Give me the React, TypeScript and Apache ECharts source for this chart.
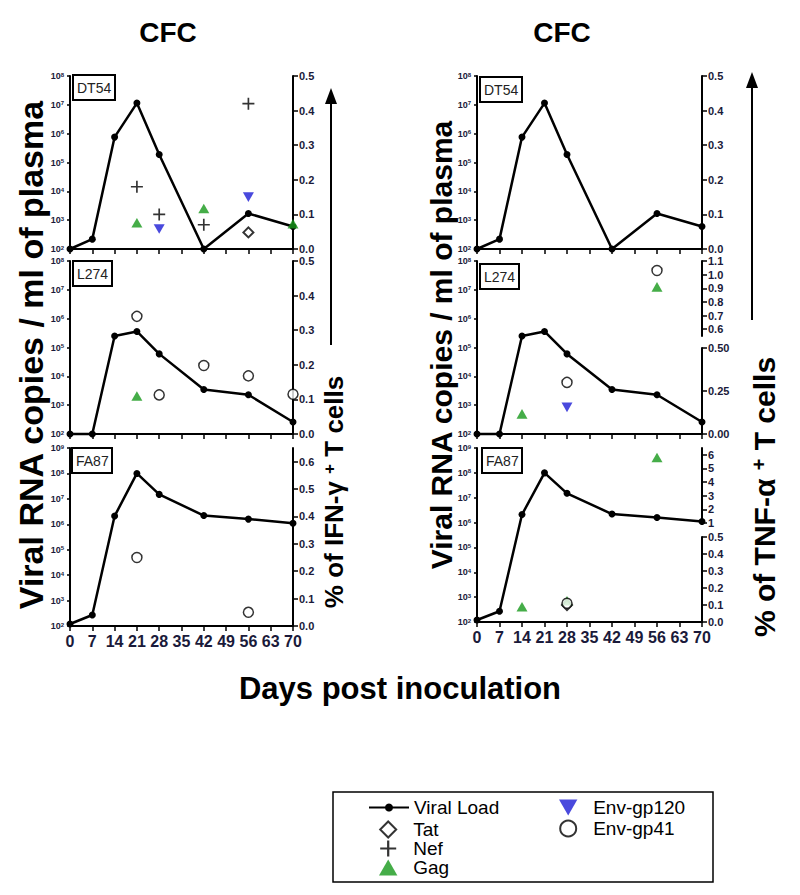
import { useEffect, useRef } from 'react';
import * as echarts from 'echarts';

const FONT = '"Liberation Sans", Arial, Helvetica, sans-serif';
const INK = '#000';
const TICK_INK = '#1a1a3a';

// ---------------- data ----------------
const DAYS = [0, 7, 14, 21, 28, 42, 56, 70];
const DAY_MAX = 70;
const DAY_STEP = 7;

// viral load (copies / ml of plasma)
const vlDT54 = [100, 220, 7.6e5, 1.15e7, 1.9e5, 100, 1.7e3, 600];
const vlL274 = [100, 100, 2.5e5, 3.6e5, 6.0e4, 3.5e3, 2.3e3, 260];
const vlFA87 = [120, 270, 2.1e6, 1.0e8, 1.5e7, 2.2e6, 1.6e6, 1.1e6];

// % of IFN-gamma+ T cells, [day, %]
const ifnDT54Tat = [[56, 0.048]];
const ifnDT54Nef = [[21, 0.18], [28, 0.1], [42, 0.07], [56, 0.42]];
const ifnDT54Gag = [[21, 0.076], [42, 0.117], [70, 0.073]];
const ifnDT54Gp120 = [[28, 0.058], [56, 0.15]];
const ifnL274Gag = [[21, 0.11]];
const ifnL274Gp41 = [[21, 0.34], [28, 0.113], [42, 0.198], [56, 0.168], [70, 0.115]];
const ifnFA87Gp41 = [[21, 0.25], [56, 0.05]];

// % of TNF-alpha+ T cells, [day, %]
const tnfL274Gag = [[14, 0.117], [56, 0.91]];
const tnfL274Gp120 = [[28, 0.155]];
const tnfL274Gp41 = [[28, 0.3], [56, 1.03]];
const tnfFA87Tat = [[28, 0.1]];
const tnfFA87Gag = [[14, 0.09], [28, 0.125], [56, 5.8]];
const tnfFA87Gp41 = [[28, 0.11]];

// right-axis tick labels
const TICKS_05 = [0, 0.1, 0.2, 0.3, 0.4, 0.5];
const TICKS_06 = [0, 0.1, 0.2, 0.3, 0.4, 0.5, 0.6];
const TICKS_L274_LOW = [0, 0.25, 0.5];
const TICKS_L274_HIGH = [0.6, 0.7, 0.8, 0.9, 1.0, 1.1];
const TICKS_FA87_LOW = [0, 0.1, 0.2, 0.3, 0.4, 0.5];
const TICKS_FA87_HIGH = [1, 2, 3, 4, 5, 6];

// ---------------- layout ----------------
const COLS = [
  { left: 70, right: 293 },
  { left: 477, right: 702 },
];

type Seg = { min: number; max: number; top: number; bottom: number; ticks: number[]; digits: number };
type Panel = {
  col: number; top: number; bottom: number; logMax: number; name: string; box: [number, number];
  vl: number[]; showX: boolean; resp: Record<string, number[][]>; segs: Seg[];
};

const panels: Panel[] = [
  {
    col: 0, top: 76, bottom: 249, logMax: 1e8, name: 'DT54', box: [73, 75], vl: vlDT54, showX: false,
    resp: { Tat: ifnDT54Tat, Nef: ifnDT54Nef, Gag: ifnDT54Gag, 'Env-gp120': ifnDT54Gp120 },
    segs: [{ min: 0, max: 0.5, top: 76, bottom: 249, ticks: TICKS_05, digits: 1 }],
  },
  {
    col: 0, top: 261, bottom: 434, logMax: 1e8, name: 'L274', box: [73, 261], vl: vlL274, showX: false,
    resp: { Gag: ifnL274Gag, 'Env-gp41': ifnL274Gp41 },
    segs: [{ min: 0, max: 0.5, top: 261, bottom: 434, ticks: TICKS_05, digits: 1 }],
  },
  {
    col: 0, top: 448, bottom: 626, logMax: 1e9, name: 'FA87', box: [72, 448], vl: vlFA87, showX: true,
    resp: { 'Env-gp41': ifnFA87Gp41 },
    segs: [{ min: 0, max: 0.65, top: 448, bottom: 626, ticks: TICKS_06, digits: 1 }],
  },
  {
    col: 1, top: 76, bottom: 249, logMax: 1e8, name: 'DT54', box: [480, 77], vl: vlDT54, showX: false,
    resp: {},
    segs: [{ min: 0, max: 0.5, top: 76, bottom: 249, ticks: TICKS_05, digits: 1 }],
  },
  {
    col: 1, top: 261, bottom: 434, logMax: 1e8, name: 'L274', box: [480, 264], vl: vlL274, showX: false,
    resp: { Gag: tnfL274Gag, 'Env-gp120': tnfL274Gp120, 'Env-gp41': tnfL274Gp41 },
    segs: [
      { min: 0, max: 0.5, top: 348, bottom: 434, ticks: TICKS_L274_LOW, digits: 2 },
      { min: 0.55, max: 1.1, top: 261, bottom: 336, ticks: TICKS_L274_HIGH, digits: 1 },
    ],
  },
  {
    col: 1, top: 448, bottom: 622, logMax: 1e9, name: 'FA87', box: [482, 448], vl: vlFA87, showX: true,
    resp: { Tat: tnfFA87Tat, Gag: tnfFA87Gag, 'Env-gp41': tnfFA87Gp41 },
    segs: [
      { min: 0, max: 0.5, top: 537, bottom: 622, ticks: TICKS_FA87_LOW, digits: 1 },
      { min: 1, max: 6.5, top: 448, bottom: 523, ticks: TICKS_FA87_HIGH, digits: 0 },
    ],
  },
];

const PLUS = 'path://M4.3,0H5.7V4.3H10V5.7H5.7V10H4.3V5.7H0V4.3H4.3Z';
const DOWN_TRI = 'path://M0,0L10,0L5,8.7Z';
const UP_TRI = 'path://M5,0L10,8.7L0,8.7Z';
const DIAMOND = 'path://M5,0L10,5L5,10L0,5Z';

const RESP_STYLE: Record<string, any> = {
  Tat: { symbol: DIAMOND, symbolSize: 10, itemStyle: { color: '#fff', borderColor: '#000', borderWidth: 2 } },
  Nef: { symbol: PLUS, symbolSize: 12, itemStyle: { color: '#000' } },
  Gag: { symbol: UP_TRI, symbolSize: 11, itemStyle: { color: '#17991a' } },
  'Env-gp120': { symbol: DOWN_TRI, symbolSize: 11, itemStyle: { color: '#1c1cd4' } },
  'Env-gp41': { symbol: 'circle', symbolSize: 10, itemStyle: { color: '#fff', borderColor: '#000', borderWidth: 1.5 } },
};
const RESP_ORDER = ['Tat', 'Nef', 'Gag', 'Env-gp120', 'Env-gp41'];

const axisLineStyle = { color: INK, width: 2 };

function logLabel(v: number) {
  const e = Math.round(Math.log10(v));
  return `{b|10}{s|${e}}`;
}

function buildOption() {
  const grid: any[] = [];
  const xAxis: any[] = [];
  const yAxis: any[] = [];
  const series: any[] = [];
  const title: any[] = [];

  panels.forEach((p) => {
    const c = COLS[p.col];
    const gi = grid.length;
    grid.push({ left: c.left, top: p.top, width: c.right - c.left, height: p.bottom - p.top, outerBoundsMode: 'none' });
    xAxis.push({
      type: 'value', gridIndex: gi, min: 0, max: DAY_MAX, interval: DAY_STEP,
      axisLine: { show: true, onZero: false, lineStyle: axisLineStyle },
      axisTick: { show: true, length: 5, lineStyle: { color: INK, width: 1.5 } },
      axisLabel: { show: p.showX, fontSize: 16, fontWeight: 'bold', color: TICK_INK, margin: 7, fontFamily: FONT },
      splitLine: { show: false },
    });
    const xi = xAxis.length - 1;
    yAxis.push({
      type: 'log', gridIndex: gi, min: 100, max: p.logMax, logBase: 10, position: 'left',
      axisLine: { show: true, onZero: false, lineStyle: axisLineStyle },
      axisTick: { show: true, length: 3, lineStyle: { color: INK, width: 1.5 } },
      minorTick: { show: false },
      splitLine: { show: false },
      axisLabel: {
        formatter: logLabel, margin: 6,
        rich: {
          b: { fontSize: 9, fontWeight: 'bold', color: TICK_INK, fontFamily: FONT },
          s: { fontSize: 6, fontWeight: 'bold', color: TICK_INK, fontFamily: FONT, verticalAlign: 'top' },
        },
      },
    });
    const yi = yAxis.length - 1;
    series.push({
      type: 'line', name: 'Viral Load', xAxisIndex: xi, yAxisIndex: yi,
      data: DAYS.map((d, i) => [d, p.vl[i]]),
      symbol: 'circle', symbolSize: 7, clip: false, z: 3,
      itemStyle: { color: INK },
      lineStyle: { color: INK, width: 2.5 },
    });

    p.segs.forEach((s) => {
      const sg = grid.length;
      grid.push({ left: c.left, top: s.top, width: c.right - c.left, height: s.bottom - s.top, outerBoundsMode: 'none' });
      xAxis.push({ type: 'value', gridIndex: sg, min: 0, max: DAY_MAX, show: false });
      const sx = xAxis.length - 1;
      yAxis.push({
        type: 'value', gridIndex: sg, position: 'right', min: s.min, max: s.max,
        axisLine: { show: true, onZero: false, lineStyle: axisLineStyle },
        axisTick: { show: true, length: 5, customValues: s.ticks, lineStyle: { color: INK, width: 1.5 } },
        axisLabel: {
          customValues: s.ticks, formatter: (v: number) => v.toFixed(s.digits),
          fontSize: 11, fontWeight: 'bold', color: TICK_INK, margin: 6, fontFamily: FONT,
        },
        splitLine: { show: false },
      });
      const sy = yAxis.length - 1;
      RESP_ORDER.forEach((name) => {
        const arr = p.resp[name];
        if (!arr) return;
        const pts = arr.filter(([, v]) => v >= s.min && v <= s.max);
        if (!pts.length) return;
        series.push({
          type: 'scatter', name, xAxisIndex: sx, yAxisIndex: sy, data: pts, clip: false, z: 4,
          symbolKeepAspect: true,
          ...RESP_STYLE[name],
        });
      });
    });

    title.push({
      text: p.name, left: p.box[0], top: p.box[1],
      borderColor: INK, borderWidth: 2, padding: [6, 4, 5, 4],
      textStyle: { fontSize: 14, fontWeight: 'normal', color: '#222', fontFamily: FONT },
    });
  });

  const legendText = { fontSize: 19, lineHeight: 18, color: INK, fontFamily: FONT };
  const legendBase = { orient: 'vertical', itemWidth: 40, selectedMode: false, padding: 0, symbolKeepAspect: true, textStyle: legendText };
  const legend = [
    { ...legendBase, left: 368, top: 798, itemHeight: 10, itemGap: 0, data: ['Viral Load'] },
    { ...legendBase, left: 379, top: 820, itemHeight: 16, itemGap: 0, data: ['Tat', 'Nef', 'Gag'] },
    { ...legendBase, left: 559, top: 798, itemHeight: 16, itemGap: 2, data: ['Env-gp120', 'Env-gp41'] },
  ];

  const bigFont = (size: number) => `bold ${size}px ${FONT}`;
  const pctText = (x: number, y: number, label: string, size: number) => ({
    type: 'text', x, y, rotation: Math.PI / 2,
    style: {
      text: `{t|% of ${label} }{s|+}{t| T cells}`, align: 'center', verticalAlign: 'middle',
      rich: {
        t: { fontSize: size, fontWeight: 'bold', fontFamily: FONT, fill: INK },
        s: { fontSize: Math.round(size * 0.65), fontWeight: 'bold', fontFamily: FONT, fill: INK, verticalAlign: 'top' },
      },
    },
  });
  const graphic: any[] = [
    { type: 'text', x: 168, y: 32, style: { text: 'CFC', font: bigFont(28), fill: INK, align: 'center', verticalAlign: 'middle' } },
    { type: 'text', x: 562, y: 32, style: { text: 'CFC', font: bigFont(28), fill: INK, align: 'center', verticalAlign: 'middle' } },
    { type: 'text', x: 31, y: 355, rotation: Math.PI / 2, style: { text: 'Viral RNA copies / ml of plasma', font: bigFont(34), fill: INK, align: 'center', verticalAlign: 'middle' } },
    { type: 'text', x: 441, y: 345, rotation: Math.PI / 2, style: { text: 'Viral RNA copies / ml of plasma', font: bigFont(30), fill: INK, align: 'center', verticalAlign: 'middle' } },
    pctText(334, 492, 'IFN-γ', 26),
    pctText(764, 497, 'TNF-α', 30),
    { type: 'line', shape: { x1: 331, y1: 345, x2: 331, y2: 100 }, style: { stroke: INK, lineWidth: 2 } },
    { type: 'polygon', shape: { points: [[331, 88], [325, 104], [337, 104]] }, style: { fill: INK } },
    { type: 'line', shape: { x1: 752, y1: 320, x2: 752, y2: 85 }, style: { stroke: INK, lineWidth: 2 } },
    { type: 'polygon', shape: { points: [[752, 72], [746, 88], [758, 88]] }, style: { fill: INK } },
    { type: 'text', x: 400, y: 688, style: { text: 'Days post inoculation', font: bigFont(31), fill: INK, align: 'center', verticalAlign: 'middle' } },
    { type: 'rect', shape: { x: 333, y: 792, width: 380, height: 90 }, style: { fill: 'none', stroke: INK, lineWidth: 1.5 } },
  ];

  return {
    animation: false,
    backgroundColor: '#fff',
    textStyle: { fontFamily: FONT },
    title, grid, xAxis, yAxis, series, legend, graphic,
  };
}

export default function App() {
  const ref = useRef<HTMLDivElement>(null);
  useEffect(() => {
    if (!ref.current) return;
    const chart = echarts.init(ref.current, null, { renderer: 'svg' });
    chart.setOption(buildOption() as any);
    return () => chart.dispose();
  }, []);
  return (
    <div
      ref={ref}
      style={{ position: 'absolute', left: 0, top: 0, width: 800, height: 895, background: '#fff' }}
    />
  );
}
